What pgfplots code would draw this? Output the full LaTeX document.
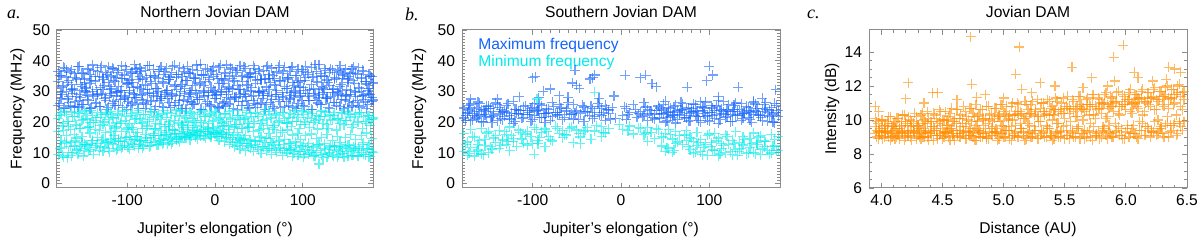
\documentclass[border=0pt]{standalone}
\usepackage{pgfplots}
\pgfplotsset{compat=1.18}
\usepackage{pgfplotstable}
\usepackage{fontspec}
\setmainfont{Liberation Sans}
\newfontfamily\serifit{Liberation Serif}

\definecolor{maxb}{RGB}{20,100,250}
\definecolor{minc}{RGB}{0,235,235}
\definecolor{orng}{RGB}{255,140,0}
\definecolor{frame}{RGB}{140,140,140}

\pgfplotstableread{
x m1 m2 m3 n1 n2 n3
-178.5 25.3 33.1 36.4 21.2 16.8 9.4
-175.5 27.8 29.6 35.2 23.0 14.1 11.7
-172.5 24.6 31.9 37.9 19.5 17.3 8.6
-169.5 29.9 34.7 36.8 22.4 15.5 12.9
-166.5 26.4 28.3 33.5 20.1 18.6 10.2
-163.5 30.5 32.2 37.1 23.3 13.4 9.0
-160.5 24.9 30.4 35.8 21.7 16.0 12.2
-157.5 28.2 33.8 34.3 19.0 14.8 10.9
-154.5 26.9 29.0 38.2 22.8 17.9 11.4
-151.5 25.7 31.5 36.0 20.6 15.2 13.3
-148.5 30.1 34.0 33.0 23.6 12.8 10.6
-145.5 27.3 28.7 37.4 21.0 18.2 12.5
-142.5 24.4 32.6 35.5 19.8 16.4 11.0
-139.5 29.0 30.0 38.6 22.1 13.9 14.1
-136.5 26.1 33.4 34.9 20.4 17.5 11.8
-133.5 28.8 29.3 36.6 23.1 15.0 13.0
-130.5 25.0 31.2 37.7 21.5 18.9 12.0
-127.5 30.7 34.5 33.9 19.3 14.4 10.5
-124.5 27.0 28.0 36.2 22.6 16.7 13.6
-121.5 24.8 32.9 38.0 20.9 13.2 11.3
-118.5 29.4 30.8 35.0 23.4 17.0 14.4
-115.5 26.6 33.6 37.3 21.3 15.7 12.7
-112.5 28.5 29.8 34.6 19.7 18.4 10.8
-109.5 25.5 31.7 36.9 22.3 14.6 13.8
-106.5 30.3 34.3 38.4 20.2 16.9 11.6
-103.5 27.5 28.5 35.3 23.7 13.6 12.4
-100.5 24.2 32.4 37.0 21.8 17.7 14.9
-97.5 29.6 30.2 33.7 19.4 15.3 11.1
-94.5 26.2 33.0 36.3 22.9 18.1 13.1
-91.5 28.0 29.1 38.7 20.7 14.2 12.1
-88.5 25.8 31.4 35.7 23.2 16.5 15.2
-85.5 30.9 34.8 37.6 21.1 13.8 12.8
-82.5 27.2 28.9 34.0 19.9 17.8 11.5
-79.5 24.5 32.1 36.7 22.5 15.9 14.0
-76.5 29.2 30.6 38.3 20.3 18.7 13.4
-73.5 26.8 33.3 35.1 23.5 14.9 12.3
-70.5 28.6 29.4 37.2 21.6 16.2 15.5
-67.5 25.1 31.0 34.4 19.6 18.0 13.7
-64.5 30.0 34.1 36.5 22.2 15.6 12.6
-61.5 27.6 28.4 38.1 20.8 17.2 14.6
-58.5 24.7 32.7 35.6 23.8 14.3 13.2
-55.5 29.7 30.3 37.5 21.4 16.6 15.8
-52.5 26.3 33.9 33.8 19.2 18.5 13.9
-49.5 28.3 29.2 36.1 22.7 15.1 12.9
-46.5 25.4 31.6 38.5 20.5 17.4 16.1
-43.5 30.6 34.6 35.4 23.9 14.7 14.3
-40.5 27.1 28.6 37.8 21.9 16.3 13.5
-37.5 24.3 32.3 34.8 19.1 18.8 15.4
-34.5 29.3 30.9 36.4 22.0 15.4 14.8
-31.5 26.7 33.5 38.2 20.0 17.6 16.4
-28.5 28.9 29.7 35.9 23.3 15.8 14.2
-25.5 25.6 31.8 37.0 21.2 18.3 16.7
-22.5 30.2 34.4 34.1 19.8 16.1 15.1
-19.5 27.4 28.1 36.8 22.4 17.1 14.5
-16.5 24.1 32.8 38.8 20.6 15.5 16.9
-13.5 29.5 30.1 35.3 23.6 18.6 15.6
-10.5 26.0 33.2 37.4 21.7 16.8 14.7
-7.5 28.7 29.5 34.5 19.5 17.7 16.2
-4.5 25.2 31.3 36.6 22.8 15.9 15.0
-1.5 30.4 34.9 38.0 20.4 18.2 16.6
1.5 27.7 28.8 35.6 23.1 16.4 15.3
4.5 24.6 32.5 37.7 21.0 17.3 14.1
7.5 29.8 30.5 34.2 19.9 15.2 16.0
10.5 26.5 33.7 36.2 22.6 18.9 13.6
13.5 28.1 29.9 38.6 20.1 16.0 14.9
16.5 25.9 31.1 35.0 23.4 17.5 12.8
19.5 30.8 34.2 37.3 21.5 15.0 13.3
22.5 27.9 28.2 33.6 19.3 18.4 11.9
25.5 24.0 32.0 36.9 22.1 16.6 12.4
28.5 29.1 30.7 38.4 20.8 14.5 11.2
31.5 26.8 33.1 35.2 23.7 17.8 13.0
34.5 28.4 29.0 37.5 21.3 15.7 10.7
37.5 25.3 31.9 34.7 19.6 18.1 12.2
40.5 30.1 34.7 36.0 22.9 14.0 11.6
43.5 27.0 28.6 38.3 20.2 16.9 10.4
46.5 24.8 32.6 35.8 23.0 13.7 12.6
49.5 29.5 30.0 37.1 21.8 17.2 11.0
52.5 26.2 33.8 33.9 19.4 15.1 9.8
55.5 28.6 29.3 36.7 22.5 18.0 12.0
58.5 25.6 31.4 38.0 20.7 14.8 10.6
61.5 30.5 34.3 35.4 23.5 16.3 11.4
64.5 27.3 28.4 37.6 21.4 13.3 9.5
67.5 24.4 32.2 34.3 19.0 17.6 12.3
70.5 29.0 30.4 36.3 22.2 15.4 10.1
73.5 26.6 33.5 38.5 20.5 13.9 11.8
76.5 28.2 29.6 35.7 23.2 16.7 9.2
79.5 25.0 31.6 37.8 21.1 14.4 11.3
82.5 30.9 34.0 34.6 19.7 17.4 9.9
85.5 27.5 28.7 36.5 22.7 12.9 10.9
88.5 24.9 32.8 38.1 20.3 15.8 8.8
91.5 29.8 30.2 35.1 23.8 13.5 11.7
94.5 26.0 33.0 37.2 21.6 16.2 9.3
97.5 28.7 29.4 33.4 19.2 14.2 10.3
100.5 25.4 31.2 36.4 22.4 12.4 8.6
103.5 30.2 34.6 38.2 20.0 15.6 11.1
106.5 27.1 28.3 35.5 23.3 13.1 9.6
109.5 24.2 32.3 37.9 21.2 16.1 10.8
112.5 29.3 30.8 34.9 19.8 11.9 8.9
115.5 26.9 33.3 36.6 22.0 14.6 10.0
118.5 28.0 29.1 38.7 20.9 12.7 6.3
121.5 25.7 31.7 35.0 23.6 15.0 9.4
124.5 30.6 34.8 37.4 21.9 13.0 11.5
127.5 27.6 28.0 33.7 19.1 16.0 8.7
130.5 24.5 32.0 36.2 22.3 11.6 10.2
133.5 29.6 30.6 37.0 20.6 14.1 9.1
136.5 26.4 33.9 34.5 23.1 12.2 11.9
139.5 28.8 29.8 36.8 21.0 15.3 8.5
142.5 25.1 31.5 38.4 19.5 13.4 10.5
145.5 30.3 34.1 35.3 22.8 11.3 9.7
148.5 27.2 28.5 37.3 20.4 14.9 12.1
151.5 24.7 32.9 34.0 23.4 12.5 8.8
154.5 29.1 30.3 36.0 21.5 15.9 10.6
157.5 26.3 33.6 38.0 19.3 11.8 9.2
160.5 28.3 29.5 35.9 22.6 14.3 11.4
163.5 25.5 31.3 37.7 20.1 12.0 8.9
166.5 30.0 34.4 34.2 23.0 15.5 10.1
169.5 27.4 28.8 36.5 21.7 13.2 9.5
172.5 24.3 32.4 33.3 19.6 16.4 11.2
175.5 29.4 30.9 35.6 22.1 12.6 8.7
178.5 26.7 28.1 34.8 20.8 14.7 10.3
}\northtab

\pgfplotstableread{
x m4 m5 n4 n5
-177 26.1 35.2 22.0 11.3
-174 28.9 31.4 18.7 9.2
-171 24.3 37.5 23.4 13.5
-168 27.5 33.0 20.3 8.4
-165 25.2 36.3 17.6 12.1
-162 29.4 30.8 21.8 10.0
-159 26.8 34.6 19.2 13.8
-156 24.9 38.1 23.0 9.7
-153 28.1 32.3 17.9 11.9
-150 25.8 35.7 20.9 8.9
-147 29.7 31.1 22.7 12.6
-144 27.0 37.0 18.4 10.4
-141 24.6 33.6 23.7 13.1
-138 28.4 36.8 19.9 9.5
-135 26.3 30.5 21.4 12.4
-132 25.1 34.9 17.3 10.7
-129 29.1 38.3 22.5 14.0
-126 27.7 32.0 20.0 11.6
-123 24.2 35.4 23.2 13.3
-120 28.6 31.7 18.9 10.3
-117 26.0 37.6 21.6 12.9
-114 25.5 33.3 17.8 14.6
-111 29.8 36.1 22.9 11.2
-108 27.3 30.2 19.6 13.7
-105 24.8 34.2 23.5 12.0
-102 28.0 38.0 20.5 15.0
-99 26.6 32.7 18.2 11.8
-96 25.3 35.9 22.2 14.3
-93 29.2 31.3 17.5 12.7
-90 27.9 37.3 21.1 15.3
-87 24.5 33.9 23.8 11.4
-84 28.7 36.6 19.4 13.9
-81 26.2 30.6 22.4 12.2
-78 25.7 34.4 18.0 14.8
-75 29.5 38.4 20.8 11.9
-72 27.1 32.5 23.3 13.4
-69 24.0 35.0 17.7 15.6
-66 28.3 31.0 21.9 12.5
-63 26.9 37.1 19.1 14.1
-60 25.0 33.1 22.6 13.0
-57 29.0 36.4 18.6 15.9
-54 27.6 30.4 23.1 12.8
-51 24.7 34.7 20.2 14.6
-48 28.8 38.2 17.4 13.6
-45 26.4 32.1 22.1 16.3
-42 25.4 35.6 19.7 14.4
-39 29.9 31.6 23.6 15.1
-36 27.2 37.4 18.3 16.8
-33 24.4 33.5 21.3 14.9
-30 28.2 36.0 19.0 16.0
-27 26.5 30.3 22.8 15.5
-24 25.9 34.1 20.6 17.2
-21 29.3 38.6 18.8 15.7
-18 27.4 32.4 23.0 16.5
-15 24.1 35.3 19.8 17.5
-12 28.5 31.9 21.7 15.4
-9 26.7 37.2 18.1 16.9
-6 25.6 33.8 22.3 15.9
-3 29.6 36.9 20.1 17.8
0 27.8 30.0 23.4 16.2
3 24.9 34.3 18.5 15.2
6 28.9 38.5 21.5 17.0
9 26.0 32.6 19.5 16.4
12 25.2 35.8 22.9 14.7
15 29.1 31.5 18.7 16.6
18 27.5 37.7 21.0 14.2
21 24.3 33.2 23.7 15.8
24 28.1 36.2 19.3 13.5
27 26.8 30.7 22.0 15.0
30 25.3 34.8 17.9 13.9
33 29.4 38.0 20.7 14.5
36 27.0 32.2 23.2 12.9
39 24.6 35.5 18.4 14.3
42 28.4 31.2 21.8 12.4
45 26.1 37.5 19.6 13.8
48 25.8 33.7 22.7 11.7
51 29.8 36.5 17.6 14.0
54 27.7 30.1 20.4 12.1
57 24.2 34.0 23.5 13.2
60 28.6 38.3 19.0 11.5
63 26.3 32.8 21.2 14.6
66 25.1 35.1 18.1 12.7
69 29.0 31.8 22.6 10.9
72 27.3 37.8 20.0 13.6
75 24.8 33.4 17.2 11.3
78 28.0 36.7 23.1 12.8
81 26.6 30.9 19.7 10.6
84 25.5 34.5 21.4 13.0
87 29.7 37.9 18.6 11.1
90 27.9 32.0 22.5 9.8
93 24.5 35.2 20.3 12.3
96 28.3 31.4 17.8 10.4
99 26.9 37.0 23.6 11.9
102 25.0 33.6 19.2 9.5
105 29.2 36.1 21.6 12.0
108 27.1 30.5 18.3 10.1
111 24.0 34.6 22.8 11.6
114 28.7 38.7 20.6 9.0
117 26.2 32.9 17.7 12.5
120 25.7 35.7 21.9 10.7
123 29.5 31.1 19.4 8.4
126 27.6 36.8 23.3 11.0
129 24.7 33.0 18.0 9.6
132 28.2 37.4 20.9 12.2
135 26.4 30.8 22.2 8.8
138 25.4 34.2 17.4 10.9
141 29.3 36.3 21.1 9.3
144 27.4 32.3 23.0 11.8
147 24.4 35.9 19.1 8.6
150 28.8 30.6 20.5 10.5
153 26.7 34.9 22.4 12.4
156 25.2 37.3 18.2 9.1
159 29.9 32.5 21.7 11.2
162 27.0 35.4 19.9 8.9
165 24.9 31.0 23.1 10.8
168 28.5 36.9 17.9 12.7
171 26.5 33.3 20.2 9.4
174 25.6 30.4 22.1 11.5
177 29.1 35.0 18.8 8.7
180 27.2 32.7 21.3 10.2
}\northtabb

\pgfplotstableread{
x M1 M2 N1 N2
-178 21.3 24.6 16.2 10.4
-174 22.8 23.1 13.5 9.1
-170 20.4 25.9 17.6 11.8
-166 23.5 22.2 15.0 8.9
-162 21.9 26.5 12.7 10.9
-158 20.1 24.0 17.9 9.6
-154 22.4 23.5 14.3 12.3
-150 24.3 25.2 16.8 10.0
-146 19.8 21.7 nan 11.2
-142 nan 26.2 15.6 13.4
-138 22.6 24.8 17.3 11.5
-134 20.7 23.3 13.9 14.2
-130 23.2 25.5 16.0 12.8
-126 21.1 22.0 18.4 10.7
-122 19.6 26.8 14.7 13.6
-118 22.9 24.2 nan 12.1
-114 nan 23.8 16.5 nan
-110 21.5 25.0 13.1 nan
-106 23.8 22.5 17.0 12.5
-102 20.3 24.5 15.2 nan
-98 22.1 26.0 18.1 9.5
-94 24.0 23.7 14.0 13.0
-90 21.4 25.3 16.6 nan
-86 19.9 22.7 17.7 12.0
-82 23.0 24.1 15.4 nan
-78 21.7 26.4 nan 13.8
-74 nan 23.0 18.6 nan
-70 22.5 25.6 16.3 nan
-66 20.8 nan 17.2 14.9
-62 23.6 24.4 15.8 nan
-58 nan 22.4 18.0 nan
-54 21.0 25.8 nan 13.3
-50 nan 23.6 17.4 nan
-46 22.7 nan 15.1 12.9
-42 20.2 24.9 16.9 nan
-38 23.4 nan 18.2 nan
-34 nan 25.1 nan 14.4
-30 21.8 23.2 17.1 nan
-26 nan 26.1 nan nan
-22 22.2 24.3 18.5 15.2
-18 20.6 25.4 16.4 nan
-14 23.9 22.9 17.8 nan
-10 nan 24.7 nan nan
-6 21.2 nan nan nan
-2 nan nan 19.2 nan
2 nan 22.1 17.5 nan
6 20.9 24.5 nan nan
10 23.1 nan 18.7 nan
14 nan 25.7 16.1 nan
18 21.6 nan nan nan
22 nan 23.4 17.9 nan
26 22.3 26.3 15.9 nan
30 20.5 24.0 18.3 13.7
34 23.7 nan 16.7 nan
38 21.0 22.6 nan 14.6
42 nan 25.2 17.5 nan
46 22.8 23.9 15.3 12.2
50 20.0 26.7 16.2 10.5
54 23.3 24.8 17.6 11.3
58 21.6 22.3 14.5 10.1
62 19.7 25.5 16.9 13.1
66 22.4 23.1 15.5 nan
70 24.1 26.0 nan 12.6
74 21.3 24.3 17.2 14.0
78 20.4 22.8 15.0 11.0
82 23.5 25.9 13.6 9.8
86 21.8 23.6 16.6 12.4
90 19.9 26.6 14.2 10.3
94 22.7 24.6 nan 11.7
98 20.6 22.2 15.7 9.2
102 23.0 25.3 13.2 12.0
106 21.1 23.8 16.3 10.6
110 19.6 26.9 14.8 9.0
114 22.9 24.2 12.9 11.4
118 21.4 22.5 15.9 10.0
122 23.6 25.6 nan 12.8
126 20.3 23.4 14.1 9.4
130 22.0 26.2 16.9 11.1
134 nan 24.0 13.4 10.4
138 21.2 22.9 15.2 12.5
142 23.8 25.1 nan 9.7
146 20.7 23.5 14.6 11.6
150 22.5 26.4 16.4 10.2
154 nan 24.4 12.6 13.2
158 21.5 22.1 15.6 9.3
162 23.4 25.8 13.8 11.9
166 20.2 23.0 nan 10.8
170 22.1 24.7 16.0 9.9
174 19.8 26.1 14.4 12.2
178 21.9 23.7 15.3 10.6
}\southtab

\pgfplotstableread{
x M3 M4 N3
-176 22.0 20.5 12.6
-172 23.9 25.4 9.8
-168 20.8 22.7 15.3
-164 24.6 21.3 10.5
-160 22.3 26.1 13.9
-156 20.0 23.9 9.3
-152 25.1 21.8 16.4
-148 21.6 24.5 11.9
-144 23.4 22.2 14.8
-140 20.5 25.7 nan
-136 24.2 21.1 12.4
-132 21.9 23.6 16.9
-128 nan 26.0 13.7
-124 22.8 20.9 15.7
-120 20.3 24.1 nan
-116 23.7 22.6 17.4
-112 21.2 nan 14.5
-108 nan 25.3 16.1
-104 22.5 23.2 nan
-100 20.7 24.8 13.0
-96 23.6 nan 17.6
-92 21.4 25.9 15.0
-88 nan 22.9 nan
-84 22.9 24.3 16.8
-80 20.6 nan 14.2
-76 nan 25.0 nan
-72 23.1 22.3 17.9
-68 nan 24.6 nan
-64 21.5 nan 15.9
-60 nan 26.3 nan
-56 22.6 nan 18.4
-52 nan 23.1 nan
-48 20.9 nan 16.2
-44 nan 25.5 nan
-40 23.3 nan 17.3
-36 nan 22.0 nan
-32 21.1 24.4 nan
-28 nan nan 18.8
-24 22.4 25.0 nan
-20 nan 23.0 16.6
-16 24.2 nan nan
-12 21.0 nan nan
4 nan 25.0 nan
8 22.4 nan 17.2
16 24.0 nan nan
20 nan 22.7 18.1
24 21.7 nan nan
28 nan 24.9 16.4
32 22.9 nan nan
36 nan 21.4 nan
40 23.8 nan 17.8
44 21.3 24.6 nan
48 22.6 25.8 14.9
52 20.4 23.0 11.6
56 24.5 21.7 16.0
60 22.1 25.0 10.8
64 20.9 23.6 13.5
68 23.9 26.4 nan
72 21.6 22.1 15.8
76 20.2 24.7 11.9
80 24.4 23.3 14.7
84 22.2 25.6 10.2
88 20.5 21.9 13.3
92 23.7 24.9 9.4
96 21.9 26.5 12.7
100 20.3 23.2 16.1
104 24.6 22.0 10.9
108 22.5 25.2 13.8
112 20.8 23.7 9.6
116 23.4 26.7 12.3
120 21.7 24.1 15.4
124 20.1 22.4 10.3
128 24.2 25.5 13.0
132 22.3 23.5 9.1
136 20.6 26.0 11.4
140 23.1 22.8 14.3
144 21.5 24.8 10.0
148 19.9 23.0 12.9
152 23.6 25.9 9.7
156 22.0 22.5 15.1
160 20.4 24.3 11.2
164 24.1 26.3 13.6
168 21.8 23.9 9.5
172 20.0 22.6 12.1
176 23.2 25.4 10.7
}\southtabb

\pgfplotstableread{
x y
-100 34.5
-97 34.8
-88 30.0
-80 30.8
-55 32.7
-52 36.8
-50 32.0
-47 31.0
-35 34.0
-32 34.5
-30 35.3
-8 28.5
5 35.2
22 34.5
28 35.2
35 32.5
40 31.5
75 31.3
97 33.5
100 38.2
104 35.3
133 31.3
110 28.3
160 27.8
175 30.5
-115 28.3
-70 28.6
-25 27.8
-140 27.5
-170 27.5
-60 28.1
150 26.8
-93 27.9
}\southout

\pgfplotstableread{
x y
-30 29.7
-95 27.5
}\southoutmin

\pgfplotstableread{
x c1 c2 c3
3.950 9.2 9.6 10.1
3.975 8.9 9.3 9.8
4.000 9.4 9.1 10.0
4.025 9.0 9.7 9.5
4.050 9.3 9.4 9.9
4.075 8.8 9.2 10.2
4.100 9.1 9.8 9.6
4.125 9.5 9.0 10.1
4.150 8.9 9.5 9.7
4.175 9.2 9.3 10.3
4.200 9.0 9.9 9.8
4.225 9.4 9.1 10.2
4.250 8.8 9.6 9.9
4.275 9.3 9.2 10.4
4.300 9.1 9.7 9.7
4.325 8.9 9.4 10.3
4.350 9.5 9.0 10.0
4.375 9.0 9.8 10.5
4.400 9.2 9.3 9.9
4.425 8.8 9.6 10.4
4.450 9.4 9.1 10.1
4.475 9.1 9.9 10.6
4.500 8.9 9.5 10.0
4.525 9.3 9.2 10.5
4.550 9.0 9.7 10.2
4.575 9.5 9.4 10.7
4.600 8.8 9.9 10.1
4.625 9.2 9.1 10.6
4.650 9.0 9.6 10.3
4.675 9.4 9.3 10.8
4.700 8.9 9.8 10.2
4.725 9.1 9.5 10.7
4.750 9.3 9.0 10.4
4.775 8.8 9.7 10.9
4.800 9.2 9.4 10.3
4.825 9.0 10.0 10.6
4.850 9.5 9.2 10.1
4.875 8.9 9.8 10.8
4.900 9.1 9.5 10.4
4.925 9.3 10.1 10.7
4.950 8.8 9.3 10.2
4.975 9.2 9.9 10.9
5.000 9.0 9.6 10.5
5.025 9.4 10.2 10.8
5.050 8.9 9.4 10.3
5.075 9.1 10.0 11.0
5.100 9.3 9.7 10.5
5.125 9.0 10.3 10.9
5.150 9.5 9.5 10.4
5.175 8.8 10.1 11.1
5.200 9.2 9.8 10.6
5.225 9.0 10.4 10.9
5.250 9.4 9.6 10.3
5.275 8.9 10.2 11.2
5.300 9.1 9.9 10.7
5.325 9.3 10.5 11.0
5.350 9.0 9.7 10.4
5.375 9.5 10.3 11.1
5.400 8.8 10.0 10.8
5.425 9.2 10.6 11.3
5.450 9.0 9.8 10.5
5.475 9.4 10.4 11.0
5.500 8.9 10.1 10.7
5.525 9.1 10.7 11.4
5.550 9.3 9.9 10.6
5.575 9.0 10.5 11.1
5.600 9.5 10.2 10.8
5.625 8.9 10.8 11.4
5.650 9.2 10.0 10.7
5.675 9.0 10.6 11.2
5.700 9.4 10.3 10.9
5.725 8.8 10.9 11.5
5.750 9.1 10.1 10.8
5.775 9.3 10.7 11.3
5.800 9.0 10.4 11.0
5.825 9.5 11.0 11.5
5.850 8.9 10.2 10.9
5.875 9.2 10.8 11.4
5.900 9.0 10.5 11.1
5.925 9.4 11.1 11.6
5.950 9.1 10.3 10.8
5.975 8.9 10.9 11.5
6.000 9.3 10.6 11.2
6.025 9.0 11.2 11.6
6.050 9.5 10.4 11.0
6.075 9.2 11.0 11.5
6.100 8.9 10.7 11.3
6.125 9.4 11.3 11.7
6.150 9.1 10.5 11.1
6.175 9.6 11.1 11.6
6.200 9.0 10.8 11.3
6.225 9.3 11.4 11.8
6.250 9.1 10.6 11.2
6.275 9.5 11.2 11.7
6.300 9.2 10.9 11.4
6.325 9.7 11.5 11.9
6.350 9.0 10.7 11.3
6.375 9.4 11.3 11.8
6.400 9.8 11.0 11.5
6.425 9.2 11.6 12.0
6.450 9.6 10.8 11.4
6.475 9.9 11.2 11.7
}\jovtab

\pgfplotstableread{
x d1 d2 d3
3.9625 9.0 9.9 9.4
3.9875 9.3 9.5 9.1
4.0125 8.9 10.0 9.6
4.0375 9.2 9.7 9.3
4.0625 9.0 10.2 9.8
4.0875 9.4 9.6 9.0
4.1125 8.9 9.9 9.5
4.1375 9.1 10.1 9.2
4.1625 9.3 9.6 9.9
4.1875 8.8 10.3 9.4
4.2125 9.2 9.7 9.1
4.2375 9.0 10.0 9.7
4.2625 9.4 9.8 9.3
4.2875 8.9 10.2 9.6
4.3125 9.2 9.5 9.0
4.3375 9.0 10.4 9.8
4.3625 9.3 9.9 9.4
4.3875 8.8 10.1 9.2
4.4125 9.1 9.6 9.9
4.4375 9.4 10.3 9.5
4.4625 8.9 9.8 9.1
4.4875 9.2 10.5 9.7
4.5125 9.0 10.0 9.3
4.5375 9.3 9.7 10.0
4.5625 8.8 10.4 9.5
4.5875 9.1 9.9 9.2
4.6125 9.4 10.6 9.8
4.6375 9.0 10.1 9.4
4.6625 9.2 9.8 10.1
4.6875 8.9 10.5 9.6
4.7125 9.3 10.0 9.1
4.7375 9.1 10.7 9.9
4.7625 8.8 10.2 9.5
4.7875 9.4 9.9 10.2
4.8125 9.0 10.6 9.3
4.8375 9.2 10.1 9.7
4.8625 8.9 10.8 9.0
4.8875 9.3 10.3 10.0
4.9125 9.1 9.9 9.6
4.9375 9.5 10.7 9.2
4.9625 8.9 10.2 10.3
4.9875 9.2 10.9 9.7
5.0125 9.0 10.4 9.4
5.0375 9.4 10.0 10.1
5.0625 8.8 10.8 9.6
5.0875 9.2 10.3 9.1
5.1125 9.0 11.0 10.4
5.1375 9.5 10.5 9.8
5.1625 9.1 10.1 9.3
5.1875 8.9 10.9 10.2
5.2125 9.3 10.4 9.7
5.2375 9.0 11.1 9.2
5.2625 9.4 10.6 10.5
5.2875 8.9 10.2 9.9
5.3125 9.2 11.0 9.4
5.3375 9.0 10.5 10.3
5.3625 9.5 11.2 9.6
5.3875 9.1 10.7 9.1
5.4125 8.9 10.3 10.6
5.4375 9.3 11.1 9.8
5.4625 9.0 10.6 9.3
5.4875 9.6 11.3 10.4
5.5125 9.1 10.8 9.7
5.5375 8.9 10.4 10.8
5.5625 9.4 11.2 9.2
5.5875 9.0 10.7 10.2
5.6125 9.5 11.4 9.6
5.6375 9.2 10.9 10.6
5.6625 8.9 10.5 9.4
5.6875 9.3 11.3 10.9
5.7125 9.0 10.8 9.8
5.7375 9.6 11.5 10.3
5.7625 9.2 10.6 9.1
5.7875 8.9 11.2 10.7
5.8125 9.4 10.9 9.6
5.8375 9.1 11.6 10.1
5.8625 9.7 10.7 9.3
5.8875 9.0 11.3 10.8
5.9125 9.3 11.0 9.8
5.9375 9.6 11.7 10.4
5.9625 9.1 10.8 9.5
5.9875 8.9 11.4 10.9
6.0125 9.5 11.1 9.7
6.0375 9.2 11.8 10.5
6.0625 9.7 10.9 9.2
6.0875 9.0 11.5 10.8
6.1125 9.4 11.2 9.9
6.1375 9.8 11.8 10.3
6.1625 9.1 11.0 9.6
6.1875 9.5 11.6 10.9
6.2125 9.3 11.3 9.4
6.2375 9.9 11.9 10.6
6.2625 9.2 11.1 10.0
6.2875 9.6 11.7 9.5
6.3125 9.0 11.4 10.8
6.3375 9.8 12.0 10.2
6.3625 9.3 11.2 9.7
6.3875 9.7 11.8 10.9
6.4125 9.1 11.5 10.3
6.4375 9.9 12.1 9.8
6.4625 9.4 11.6 10.6
}\jovtabb

\pgfplotstableread{
x y
4.73 14.9
5.13 14.3
5.98 14.4
5.90 13.7
5.56 13.1
6.35 13.1
6.40 13.0
5.10 12.7
4.22 12.2
4.20 11.25
4.35 11.0
4.42 11.6
4.46 11.6
4.74 12.1
4.78 11.35
5.30 12.2
5.42 12.0
5.72 12.5
5.91 12.3
6.07 12.8
6.10 12.5
6.22 12.3
6.33 12.4
3.95 10.8
3.98 10.5
4.85 11.5
5.15 11.8
5.65 11.9
5.85 12.0
6.45 12.8
4.62 11.2
5.00 11.3
5.23 11.6
}\jovout

\pgfplotsset{
  jstyle/.style={
    scale only axis, height=79pt, anchor=south west,
    axis line style={frame, line width=0.5pt},
    every tick/.style={frame, line width=0.4pt},
    major tick length=2.6pt, minor tick length=1.3pt,
    tick align=inside, xtick pos=both, ytick pos=both,
    font=\fontsize{7.8}{9}\selectfont,
    tick label style={font=\fontsize{7.8}{9}\selectfont, black},
    label style={font=\fontsize{7.8}{9}\selectfont},
    /pgf/number format/assume math mode=true,
    /pgf/number format/fixed,
    title style={font=\fontsize{7.8}{9}\selectfont, at={(0.5,1)}, anchor=south, yshift=-3.5pt},
    xlabel style={at={(axis description cs:0.5,-0.265)}, anchor=center},
  },
  freq/.style={
    jstyle, width=158pt,
    xmin=-180, xmax=180, ymin=-1.5, ymax=50,
    xtick={-100,0,100}, ytick={0,10,...,50},
    minor x tick num=9, minor y tick num=9,
    xlabel={Jupiter’s elongation (°)},
    ylabel={Frequency (MHz)},
  },
  pm/.style={only marks, mark=+, mark size=2.5pt, mark options={line width=0.6pt, opacity=0.6}},
}

\begin{document}
\begin{tikzpicture}
\useasboundingbox (0,0) rectangle (600pt,120pt);

% Panel a
\begin{axis}[freq, at={(28.5pt,26pt)}, title={Northern Jovian DAM},
  ylabel style={at={(axis description cs:-0.125,0.5)}, anchor=center}]
\addplot[pm, color=maxb] table[x=x, y=m1] {\northtab};
\addplot[pm, color=maxb] table[x=x, y=m2] {\northtab};
\addplot[pm, color=maxb] table[x=x, y=m3] {\northtab};
\addplot[pm, color=maxb] table[x=x, y=m4] {\northtabb};
\addplot[pm, color=maxb] table[x=x, y=m5] {\northtabb};
\addplot[pm, color=minc] table[x=x, y=n1] {\northtab};
\addplot[pm, color=minc] table[x=x, y=n2] {\northtab};
\addplot[pm, color=minc] table[x=x, y=n3] {\northtab};
\addplot[pm, color=minc] table[x=x, y=n4] {\northtabb};
\addplot[pm, color=minc] table[x=x, y=n5] {\northtabb};
\end{axis}

% Panel b
\begin{axis}[freq, width=159pt, at={(231pt,26pt)}, title={Southern Jovian DAM},
  ylabel style={at={(axis description cs:-0.135,0.5)}, anchor=center}]
\addplot[pm, color=maxb] table[x=x, y=M1] {\southtab};
\addplot[pm, color=maxb] table[x=x, y=M2] {\southtab};
\addplot[pm, color=maxb] table[x=x, y=M3] {\southtabb};
\addplot[pm, color=maxb] table[x=x, y=M4] {\southtabb};
\addplot[pm, color=maxb] table[x=x, y=y] {\southout};
\addplot[pm, color=minc] table[x=x, y=N1] {\southtab};
\addplot[pm, color=minc] table[x=x, y=N2] {\southtab};
\addplot[pm, color=minc] table[x=x, y=N3] {\southtabb};
\addplot[pm, color=minc] table[x=x, y=y] {\southoutmin};
\node[anchor=west, text=maxb, font=\fontsize{7.8}{9}\selectfont, inner sep=0pt] at (rel axis cs:0.05,0.905) {Maximum frequency};
\node[anchor=west, text=minc, font=\fontsize{7.8}{9}\selectfont, inner sep=0pt] at (rel axis cs:0.05,0.795) {Minimum frequency};
\end{axis}

% Panel c
\begin{axis}[jstyle, width=159pt, at={(434.5pt,26pt)}, title={Jovian DAM},
  xmin=3.9, xmax=6.5, ymin=6, ymax=15.3,
  xtick={4.0,4.5,...,6.5}, ytick={6,8,...,14},
  xticklabel style={/pgf/number format/precision=1, /pgf/number format/fixed zerofill},
  minor x tick num=4, minor y tick num=3,
  xlabel={Distance (AU)}, ylabel={Intensity (dB)},
  ylabel style={at={(axis description cs:-0.116,0.5)}, anchor=center}]
\addplot[pm, color=orng] table[x=x, y=c1] {\jovtab};
\addplot[pm, color=orng] table[x=x, y=c2] {\jovtab};
\addplot[pm, color=orng] table[x=x, y=c3] {\jovtab};
\addplot[pm, color=orng] table[x=x, y=d1] {\jovtabb};
\addplot[pm, color=orng] table[x=x, y=d2] {\jovtabb};
\addplot[pm, color=orng] table[x=x, y=d3] {\jovtabb};
\addplot[pm, color=orng] table[x=x, y=y] {\jovout};
\end{axis}

\node[anchor=west, font=\serifit\itshape\fontsize{9}{10}\selectfont] at (0pt,113pt) {a.};
\node[anchor=west, font=\serifit\itshape\fontsize{9}{10}\selectfont] at (199pt,113pt) {b.};
\node[anchor=west, font=\serifit\itshape\fontsize{9}{10}\selectfont] at (400pt,113pt) {c.};
\end{tikzpicture}
\end{document}
